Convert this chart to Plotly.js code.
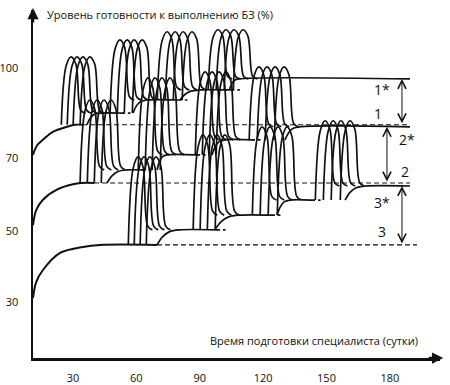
<!DOCTYPE html>
<html><head><meta charset="utf-8">
<script src="https://cdn.plot.ly/plotly-3.0.1.min.js"></script>
<style>html,body{margin:0;padding:0;background:#fff}</style>
</head><body><div id="chart" style="width:450px;height:385px"></div>
<script>
// ---- texts ----
const yTitleText = 'Уровень готовности к выполнению БЗ (%)';
const xTitleText = 'Время подготовки специалиста (сутки)';
const levelLabels = ['1*', '1', '2*', '2', '3*', '3'];

// ---- axes ----
const xTickVals = [30, 60, 90, 120, 150, 180];
const xTickText = ['30', '60', '90', '120', '150', '180'];
const yTickVals = [30, 51.3, 73.1, 100];      // schematic (non-linear) scale of the original
const yTickText = ['30', '50', '70', '100'];

// ---- initial learning curves (days, level) ----
const base1X = [11.1, 13.0, 15.8, 20.5, 27.2, 31.0, 34.3];
const base1Y = [74.0, 76.8, 78.5, 80.9, 82.4, 83.0, 83.0];
const base2X = [11.1, 12.6, 15.8, 22.4, 30.0, 34.0, 40.0];
const base2Y = [53.0, 57.5, 60.6, 63.6, 65.2, 65.6, 65.6];
const base3X = [11.1, 12.6, 15.8, 23.9, 34.7, 42.8, 69.8];
const base3Y = [31.2, 36.0, 39.6, 44.7, 46.5, 47.1, 47.1];

// ---- plateau levels before/after each of the 4 training stages ----
const levels1 = [83.0, 86.5, 90.4, 93.4, 96.7];
const levels2 = [65.6, 69.5, 74.0, 78.5, 82.4];
const levels3 = [47.1, 51.6, 56.0, 60.5, 64.7];

// ---- peak level of the pulses in each stage ----
const peaks1 = [103.3, 108.4, 110.8, 111.4];
const peaks2 = [90.4, 97.0, 98.8, 100.3];
const peaks3 = [73.4, 80.0, 82.4, 84.2];

// ---- pulse centres (days) per stage ----
const centers1 = [[29.1, 31.9, 34.7, 38.0], [52.2, 55.6, 58.9, 62.7], [74.5, 78.3, 82.1, 86.3], [98.6, 102.4, 106.2, 110.5]];
const centers2 = [[38.0, 41.4, 44.7, 48.0], [65.5, 68.8, 72.1, 75.9], [92.5, 95.8, 99.1, 102.4], [118.0, 121.8, 125.6, 129.9]];
const centers3 = [[60.8, 63.6, 66.4, 69.3], [91.5, 94.8, 98.2, 101.9], [119.5, 123.2, 127.0, 131.3], [149.3, 153.1, 156.8, 161.1]];

// ---- rise of the new plateau after each stage: [start day, reached day, plateau end day] ----
const rise1 = [[36.6, 42.8, 52.2], [58.4, 65.0, 79.2], [80.6, 90.1, 104.0], [104.0, 108.5, 189.5]];
const rise2 = [[46.1, 55.6, 62.0], [69.8, 74.5, 87.8], [95.8, 102.0, 113.8], [130.3, 137.5, 189.5]];
const rise3 = [[69.8, 80.6, 97.2], [97.2, 109.0, 123.2], [126.6, 132.7, 142.2], [158.8, 168.2, 189.5]];

// ---- reference (dashed) lines of the initial levels: [start day, end day] ----
const ref1 = [34.3, 189.5];
const ref2 = [40.0, 189.5];
const ref3 = [69.8, 192.8];

// ================= drawing =================
const HW = 4.6;     // pulse half-width (style)
const bx = [], by = [];
function addPulse(c, p, a, b) {
  bx.push(c - HW, c - 0.5 * HW, c, c + 0.5 * HW, c + HW, c + HW + 2.2, null);
  by.push(a, p - 0.13 * (p - a), p, p - 0.13 * (p - b), b + 0.05 * (p - b), b, null);
}
const rx = [], ry = [];
const sx = [], sy = [];
function addRise(r, a, b, last) {
  const d = r[1] - r[0], h = b - a;
  rx.push(r[0], r[0] + 0.25 * d, r[0] + 0.55 * d, r[1], r[2], null);
  ry.push(a, a + 0.55 * h, a + 0.88 * h, b, b, null);
  if (!last) { sx.push(r[2], r[2] + 5, null); sy.push(b, b, null); }
}
[[centers1, peaks1, levels1, rise1], [centers2, peaks2, levels2, rise2], [centers3, peaks3, levels3, rise3]]
  .forEach(([C, P, L, R]) => {
    C.forEach((cs, k) => {
      cs.forEach(c => addPulse(c, P[k], L[k], L[k + 1]));
      addRise(R[k], L[k], L[k + 1], k === C.length - 1);
    });
  });

const black = '#111';
const traces = [
  { x: base1X, y: base1Y, mode: 'lines', line: { color: black, width: 2, shape: 'spline' } },
  { x: base2X, y: base2Y, mode: 'lines', line: { color: black, width: 2, shape: 'spline' } },
  { x: base3X, y: base3Y, mode: 'lines', line: { color: black, width: 2, shape: 'spline' } },
  { x: [ref1[0], ref1[1], null, ref2[0], ref2[1], null, ref3[0], ref3[1]],
    y: [levels1[0], levels1[0], null, levels2[0], levels2[0], null, levels3[0], levels3[0]],
    mode: 'lines', line: { color: black, width: 1.2, dash: '5px,3px' } },
  { x: sx, y: sy, mode: 'lines', line: { color: black, width: 1.7, dash: '5px,3px' } },
  { x: rx, y: ry, mode: 'lines', line: { color: black, width: 1.7, shape: 'spline', smoothing: 1 } },
  { x: bx, y: by, mode: 'lines', line: { color: black, width: 1.7, shape: 'spline', smoothing: 1 } }
];

const F = '"Open Sans", "DejaVu Sans", sans-serif';
const arrowX = [185.7, 178.6, 185.7];
const pairs = [[levels1[4], levels1[0]], [levels2[4], levels2[0]], [levels3[4], levels3[0]]];
const annotations = [];
pairs.forEach((p, i) => annotations.push({
  x: arrowX[i], y: p[0], ax: arrowX[i], ay: p[1], axref: 'x', ayref: 'y', xref: 'x', yref: 'y',
  text: '', showarrow: true, arrowside: 'end+start', arrowhead: 5, startarrowhead: 5,
  arrowsize: 1.6, startarrowsize: 1.6, arrowwidth: 1, arrowcolor: black
}));
const labelPos = [[176.3, 93.4], [174.4, 86.5], [188.1, 78.5], [187.1, 68.9], [176.3, 59.9], [176.3, 51.0]];
levelLabels.forEach((t, i) => annotations.push({
  x: labelPos[i][0], y: labelPos[i][1], xref: 'x', yref: 'y', text: t, showarrow: false,
  font: { family: F, size: 14, color: black }
}));
annotations.push({ x: 0.03, y: 0.988, xref: 'paper', yref: 'paper', xanchor: 'left', yanchor: 'middle',
  text: yTitleText, showarrow: false, font: { family: F, size: 11, color: black } });
annotations.push({ x: 0.43, y: 0.05, xref: 'paper', yref: 'paper', xanchor: 'left', yanchor: 'middle',
  text: xTitleText, showarrow: false, font: { family: F, size: 11, color: black } });
// axis arrow heads
annotations.push({ x: 0, y: 1.006, xref: 'paper', yref: 'paper', ax: 0, ay: 16, text: '', showarrow: true,
  arrowhead: 2, arrowsize: 0.9, arrowwidth: 2.5, arrowcolor: black });
annotations.push({ x: 1.008, y: 0, xref: 'paper', yref: 'paper', ax: -16, ay: 0, text: '', showarrow: true,
  arrowhead: 2, arrowsize: 0.9, arrowwidth: 2.5, arrowcolor: black });

const layout = {
  width: 450, height: 385,
  margin: { l: 33, r: 10, t: 10, b: 27 },
  paper_bgcolor: '#fff', plot_bgcolor: '#fff',
  showlegend: false,
  xaxis: { range: [11.1, 203.7], showgrid: false, zeroline: false, showline: true, linewidth: 2.5, linecolor: black,
    tickvals: xTickVals, ticktext: xTickText, ticks: '', ticklabelstandoff: 8,
    tickfont: { family: F, size: 11, color: black }, fixedrange: true },
  yaxis: { range: [13.3, 117.3], showgrid: false, zeroline: false, showline: true, linewidth: 2.5, linecolor: black,
    tickvals: yTickVals, ticktext: yTickText, ticks: '', ticklabelstandoff: 10,
    tickfont: { family: F, size: 11, color: black }, fixedrange: true },
  annotations: annotations
};
Plotly.newPlot('chart', traces, layout, { displayModeBar: false, staticPlot: true });
</script></body></html>
